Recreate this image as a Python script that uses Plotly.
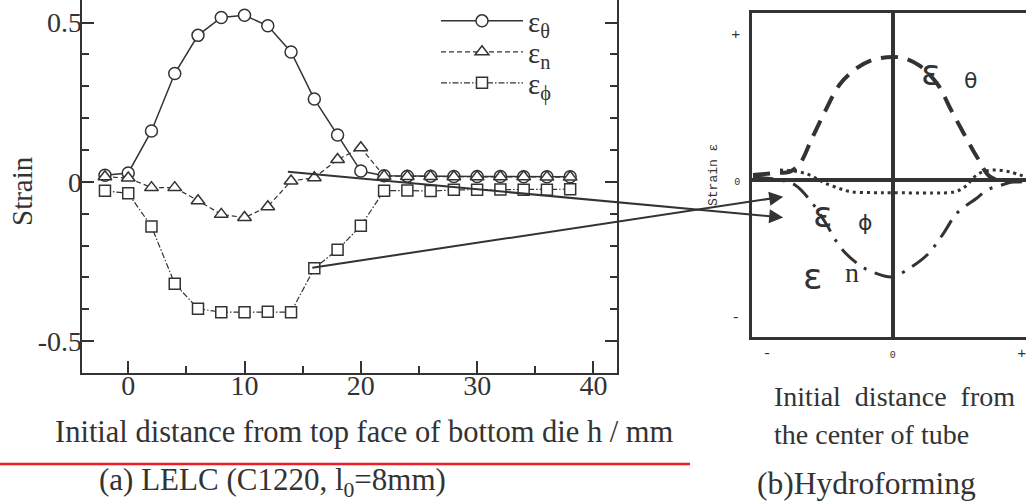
import plotly.graph_objects as go

W, H = 1026, 503
INK = "#333333"
SERIF = "Liberation Serif"

# ---------------- (a) LELC measured strains ----------------
h_mm = [-2, 0, 2, 4, 6, 8, 10, 12, 14, 16, 18, 20, 22, 24, 26, 28, 30, 32, 34, 36, 38]
eps_theta = [0.021, 0.028, 0.16, 0.34, 0.46, 0.516, 0.523, 0.49, 0.408, 0.26, 0.147, 0.034,
             0.019, 0.018, 0.018, 0.017, 0.017, 0.017, 0.016, 0.016, 0.016]
eps_n = [0.016, 0.012, -0.018, -0.018, -0.059, -0.102, -0.112, -0.078, 0.003, 0.013, 0.07, 0.107,
         0.018, 0.017, 0.017, 0.016, 0.016, 0.016, 0.016, 0.015, 0.015]
eps_phi = [-0.028, -0.036, -0.14, -0.32, -0.398, -0.409, -0.409, -0.408, -0.409, -0.271, -0.213,
           -0.138, -0.028, -0.027, -0.029, -0.025, -0.025, -0.024, -0.025, -0.025, -0.023]

x_ticks = [0, 10, 20, 30, 40]
y_tickvals = [-0.5, 0, 0.5]
y_ticktext = ["-0.5", "0", "0.5"]

# ---------------- (b) Hydroforming schematic ----------------
hf_theta_x = [-0.995, -0.838, -0.731, -0.66, -0.58, -0.483, -0.375, -0.254, -0.147, 0.0, 0.088,
              0.194, 0.323, 0.408, 0.50, 0.60, 0.693, 0.80, 0.95]
hf_theta_y = [0.03, 0.042, 0.05, 0.10, 0.24, 0.41, 0.576, 0.672, 0.72, 0.738, 0.729,
              0.684, 0.57, 0.432, 0.288, 0.138, 0.02, -0.006, -0.006]
hf_phi_x = [-0.803, -0.66, -0.575, -0.504, -0.41, -0.304, -0.14, 0.0, 0.287, 0.444, 0.522,
            0.572, 0.636, 0.729, 0.835, 0.95]
hf_phi_y = [0.06, 0.048, 0.024, -0.01, -0.042, -0.069, -0.076, -0.076, -0.078, -0.07, -0.036,
            0.012, 0.048, 0.06, 0.048, 0.018]
hf_n_x = [-0.995, -0.803, -0.696, -0.59, -0.482, -0.376, -0.269, -0.162, 0.0, 0.088, 0.244,
          0.358, 0.458, 0.60, 0.671, 0.764, 0.95]
hf_n_y = [0.018, 0.0, -0.03, -0.12, -0.252, -0.40, -0.49, -0.546, -0.582, -0.546, -0.45,
          -0.324, -0.198, -0.108, -0.06, -0.033, 0.012]

# arrows: tails in (a) data coords, heads in (b) coords
arrow_tails = [(13.6, 0.032), (15.7, -0.27)]
arrow_heads = [(-0.78, -0.225), (-0.78, -0.10)]

# ---------------- geometry (pixels) ----------------
A_L, A_R, A_T, A_B = 81.7, 616.7, 0.0, 373.0
A_XR = [-4, 42]
A_YR = [-0.6, 0.571]
B_L, B_R, B_T, B_B = 752.3, 1026.0, 13.3, 336.7
B_XR = [-1.0, 0.949]
B_YR = [-0.94, 1.0]


def a_px(x, y):
    px = A_L + (x - A_XR[0]) / (A_XR[1] - A_XR[0]) * (A_R - A_L)
    py = A_B - (y - A_YR[0]) / (A_YR[1] - A_YR[0]) * (A_B - A_T)
    return px, py


def b_px(x, y):
    px = B_L + (x - B_XR[0]) / (B_XR[1] - B_XR[0]) * (B_R - B_L)
    py = B_B - (y - B_YR[0]) / (B_YR[1] - B_YR[0]) * (B_B - B_T)
    return px, py


fig = go.Figure()

marker_line = dict(color=INK, width=1.5)
fig.add_trace(go.Scatter(
    x=h_mm, y=eps_theta, mode="lines+markers", name="ε<sub>θ</sub>", legend="legend",
    line=dict(color=INK, width=1.5),
    marker=dict(symbol="circle", size=12, color="white", line=marker_line),
    xaxis="x", yaxis="y"))
fig.add_trace(go.Scatter(
    x=h_mm, y=eps_n, mode="lines+markers", name="ε<sub>n</sub>", legend="legend2",
    line=dict(color=INK, width=1.2, dash="5px,3px"),
    marker=dict(symbol="triangle-up", size=12, color="white", line=marker_line),
    xaxis="x", yaxis="y"))
fig.add_trace(go.Scatter(
    x=h_mm, y=eps_phi, mode="lines+markers", name="ε<sub>ϕ</sub>", legend="legend3",
    line=dict(color=INK, width=1.2, dash="6px,2px,1.5px,2px"),
    marker=dict(symbol="square", size=11, color="white", line=marker_line),
    xaxis="x", yaxis="y"))

# schematic curves
fig.add_trace(go.Scatter(x=hf_theta_x, y=hf_theta_y, mode="lines", showlegend=False,
                         line=dict(color=INK, width=4, dash="17px,10px", shape="spline"),
                         xaxis="x2", yaxis="y2"))
fig.add_trace(go.Scatter(x=hf_phi_x, y=hf_phi_y, mode="lines", showlegend=False,
                         line=dict(color=INK, width=3, dash="3px,4px", shape="spline"),
                         xaxis="x2", yaxis="y2"))
fig.add_trace(go.Scatter(x=hf_n_x, y=hf_n_y, mode="lines", showlegend=False,
                         line=dict(color=INK, width=3, dash="20px,9px,3px,9px", shape="spline"),
                         xaxis="x2", yaxis="y2"))

tickfont = dict(family=SERIF, size=28, color=INK)
small_mono = dict(family="Liberation Mono", size=15, color=INK)


def legend_at(py):
    return dict(x=436 / W, y=1 - py / H, xanchor="left", yanchor="middle",
                bgcolor="rgba(0,0,0,0)", borderwidth=0, itemwidth=82,
                font=dict(family=SERIF, size=29, color=INK))


fig.update_layout(
    width=W, height=H, autosize=False,
    margin=dict(l=0, r=0, t=0, b=0, autoexpand=False),
    paper_bgcolor="white", plot_bgcolor="rgba(0,0,0,0)",
    showlegend=True,
    legend=legend_at(21), legend2=legend_at(52), legend3=legend_at(83),
    xaxis=dict(domain=[A_L / W, A_R / W], range=A_XR, anchor="y", automargin=False,
               showline=True, linecolor=INK, linewidth=2, mirror=False,
               ticks="inside", ticklen=12, tickwidth=1.5, tickcolor=INK,
               tickvals=x_ticks, tickfont=tickfont, ticklabelstandoff=-14,
               minor=dict(tickmode="linear", tick0=0, dtick=5, ticks="inside",
                          ticklen=7, tickwidth=1.5, tickcolor=INK),
               showgrid=False, zeroline=False),
    xaxis4=dict(overlaying="x", matches="x", anchor="y", side="top", automargin=False,
                ticks="inside", ticklen=4, tickwidth=1.5, tickcolor=INK,
                tickvals=x_ticks, showticklabels=False, showline=False,
                showgrid=False, zeroline=False),
    yaxis=dict(domain=[1 - A_B / H, 1 - A_T / H], range=A_YR, anchor="x", automargin=False,
               showline=True, linecolor=INK, linewidth=2, mirror="ticks",
               ticks="inside", ticklen=12, tickwidth=1.5, tickcolor=INK,
               tickvals=y_tickvals, ticktext=y_ticktext, tickfont=tickfont,
               ticklabelstandoff=-8,
               minor=dict(tickmode="linear", tick0=0, dtick=0.1, ticks="inside",
                          ticklen=7, tickwidth=1.5, tickcolor=INK),
               showgrid=False, zeroline=False),
    xaxis2=dict(domain=[B_L / W, B_R / W], range=B_XR, anchor="y2", automargin=False,
                showline=True, linecolor=INK, linewidth=3, mirror=True,
                zeroline=True, zerolinecolor=INK, zerolinewidth=4,
                showgrid=False, ticks="", ticklabeloverflow="allow",
                tickvals=[-0.895, 0, 0.919],
                ticktext=["-", "<span style='font-size:10px'>0</span>", "+"],
                tickfont=small_mono),
    yaxis2=dict(domain=[1 - B_B / H, 1 - B_T / H], range=B_YR, anchor="x2", automargin=False,
                showline=True, linecolor=INK, linewidth=3, mirror=False,
                zeroline=True, zerolinecolor=INK, zerolinewidth=4,
                showgrid=False, ticks="", ticklabelstandoff=6,
                tickvals=[-0.82, 0, 0.876],
                ticktext=["-", "<span style='font-size:10px'>0</span>", "+"],
                tickfont=small_mono),
)


def ann(text, x, y, size=28, family=SERIF, xanchor="center", yanchor="middle", angle=0):
    fig.add_annotation(text=text, x=x / W, y=1 - y / H, xref="paper", yref="paper",
                       showarrow=False, xanchor=xanchor, yanchor=yanchor, textangle=angle,
                       font=dict(family=family, size=size, color=INK))


ann("Strain", 22, 191, size=29, angle=-90)
ann("Initial distance from top face of bottom die h / mm", 364, 432, size=30.5)
ann("(a) LELC (C1220, l<sub>0</sub>=8mm)", 272, 482, size=31)
ann("Initial\u00a0\u00a0distance\u00a0\u00a0from", 772, 396, xanchor="left")
ann("the center of tube", 772, 434, xanchor="left")
ann("(b)Hydroforming", 755, 483, size=31.5, xanchor="left")
ann("Strain ε", 713, 175, size=13, family="Liberation Mono", angle=-90)

# schematic labels
ann("ε", 930, 73, size=36, family="DejaVu Sans")
ann("θ", 970, 80, size=22, family="DejaVu Sans")
ann("ε", 822, 214, size=36, family="DejaVu Sans")
ann("ϕ", 865, 222, size=22, family="DejaVu Sans")
ann("ε", 812, 276, size=36, family="DejaVu Sans")
ann("n", 852, 272, size=28)

# arrows
for (tx, ty), (hx, hy) in zip(arrow_tails, arrow_heads):
    tpx, tpy = a_px(tx, ty)
    hpx, hpy = b_px(hx, hy)
    fig.add_annotation(x=hx, y=hy, xref="x2", yref="y2", ax=tpx - hpx, ay=tpy - hpy,
                       axref="pixel", ayref="pixel", showarrow=True, text="",
                       arrowhead=2, arrowsize=1.4, arrowwidth=2, arrowcolor=INK)

# red separator
fig.add_shape(type="line", xref="paper", yref="paper", x0=0, x1=690 / W,
              y0=1 - 464 / H, y1=1 - 464 / H, line=dict(color="#ee1c25", width=2.5))

fig.write_html("out.html", config={"displayModeBar": False},
               post_script="document.body.style.margin='0px';"
                           "document.body.style.overflow='hidden';")
